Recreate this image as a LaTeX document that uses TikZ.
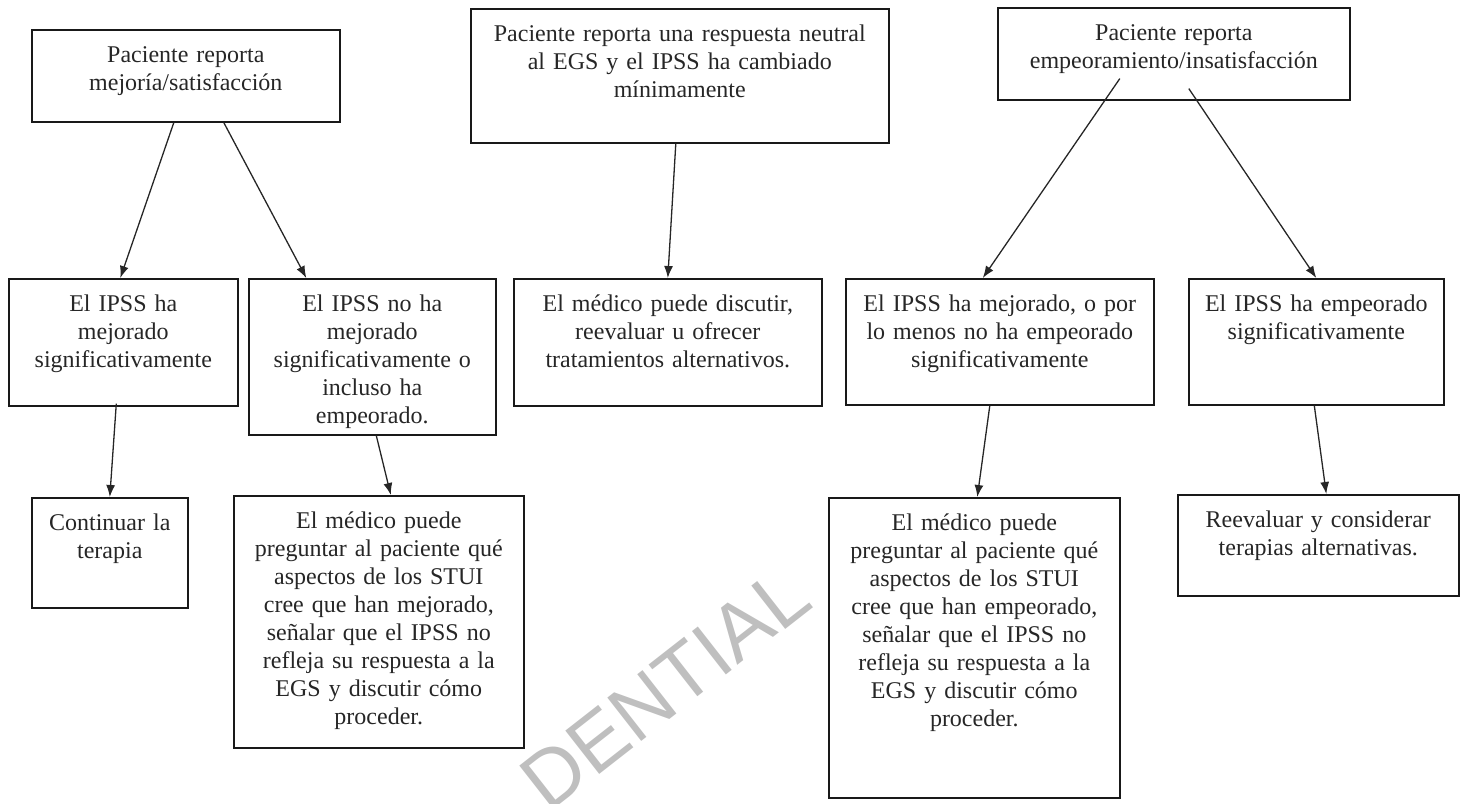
\documentclass[tikz,border=0pt]{standalone}
\usepackage{fontspec}
\setmainfont{Liberation Serif}
\newfontfamily\wmfont{Liberation Sans}
\usetikzlibrary{arrows.meta}
\tikzstyle{box}=[draw=black!90, line width=1.6pt, anchor=north west, align=center, inner xsep=6pt, inner ysep=16pt, text height=17pt, font=\fontsize{24}{28}\selectfont, text=black!85]
\tikzstyle{conn}=[-{Latex[length=12pt,width=9pt]}, line width=1.3pt, draw=black!85]
\tikzstyle{wmark}=[text=black!25, font=\wmfont\fontsize{80}{80}\selectfont, rotate=38]

\begin{document}
\begin{tikzpicture}[x=1pt, y=1pt]
	\useasboundingbox (0,0) rectangle (1461,-803);
	\node[wmark] (wm) at (665,-688) {DENTIAL};
	% top row
	\draw (31,-29) node[box, text width=296pt, text depth=43pt] (pA) {Paciente reporta\\mejoría/satisfacción};
	\draw (470,-8) node[box, text width=406pt, text depth=85pt] (pB) {Paciente reporta una respuesta neutral\\al EGS y el IPSS ha cambiado\\mínimamente};
	\draw (997,-7) node[box, text width=340pt, text depth=43pt] (pC) {Paciente reporta\\empeoramiento/insatisfacción};
	%
	\draw (8,-278) node[box, text width=217pt, text depth=78pt] (m1) {El IPSS ha\\mejorado\\significativamente};
	\draw (248,-278) node[box, text width=235pt, text depth=107pt] (m2) {El IPSS no ha\\mejorado\\significativamente o\\incluso ha\\empeorado.};
	\draw (513,-278) node[box, text width=296pt, text depth=78pt] (m3) {El médico puede discutir,\\reevaluar u ofrecer\\tratamientos alternativos.};
	\draw (845,-278) node[box, text width=296pt, text depth=77pt] (m4) {El IPSS ha mejorado, o por\\lo menos no ha empeorado\\significativamente};
	\draw (1188,-278) node[box, text width=243pt, text depth=77pt] (m5) {El IPSS ha empeorado\\significativamente};
	%
	\draw (31,-497) node[box, text width=144pt, text depth=61pt] (b1) {Continuar la\\terapia};
	\draw (233,-495) node[box, text width=278pt, text depth=203pt] (b2) {El médico puede\\preguntar al paciente qué\\aspectos de los STUI\\cree que han mejorado,\\señalar que el IPSS no\\refleja su respuesta a la\\EGS y discutir cómo\\proceder.};
	\draw (828,-497) node[box, text width=279pt, text depth=251pt] (b3) {El médico puede\\preguntar al paciente qué\\aspectos de los STUI\\cree que han empeorado,\\señalar que el IPSS no\\refleja su respuesta a la\\EGS y discutir cómo\\proceder.};
	\draw (1177,-494) node[box, text width=269pt, text depth=52pt] (b4) {Reevaluar y considerar\\terapias alternativas.};
	%
	\draw[conn] ([xshift=-12pt]pA.south) -- ([xshift=-3pt]m1.north);
	\draw[conn] ([xshift=38pt]pA.south) -- ([xshift=-66pt]m2.north);
	\draw[conn] ([xshift=-4pt]pB.south) -- (m3.north);
	\draw[conn] ([xshift=-54pt,yshift=22pt]pC.south) -- ([xshift=-17pt]m4.north);
	\draw[conn] ([xshift=15pt,yshift=12pt]pC.south) -- (m5.north);
	\draw[conn] ([xshift=-7pt,yshift=3pt]m1.south) -- (b1.north);
	\draw[conn] ([xshift=4pt]m2.south) -- ([xshift=12pt]b2.north);
	\draw[conn] ([xshift=-10pt]m4.south) -- ([xshift=3pt]b3.north);
	\draw[conn] ([xshift=-2pt]m5.south) -- ([xshift=8pt]b4.north);
\end{tikzpicture}
\end{document}
